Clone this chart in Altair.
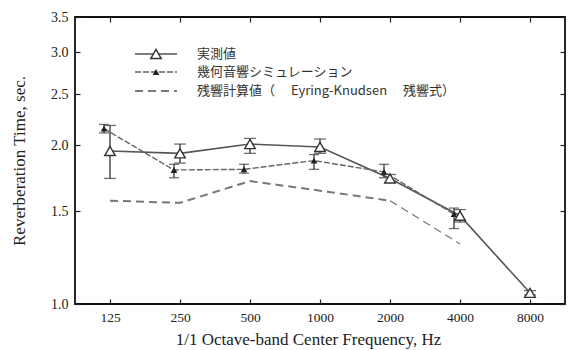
import altair as alt
import pandas as pd

freqs = ["125", "250", "500", "1000", "2000", "4000", "8000"]

# measured (open triangles)
measured = [1.95, 1.93, 2.01, 1.985, 1.73, 1.47, 1.05]
meas_lo = [1.73, 1.85, 1.93, 1.93, 1.70, 1.43, 1.04]
meas_hi = [2.18, 2.01, 2.06, 2.055, 1.76, 1.51, 1.06]

# geometric acoustic simulation (filled triangles)
sim_freqs = ["125", "250", "500", "1000", "2000", "4000"]
simulated = [2.15, 1.795, 1.80, 1.87, 1.78, 1.48]
sim_lo = [2.11, 1.735, 1.77, 1.80, 1.735, 1.39]
sim_hi = [2.19, 1.84, 1.84, 1.92, 1.84, 1.52]

# Eyring-Knudsen calculation (dashed)
ek_freqs = ["125", "250", "500", "1000", "2000", "4000"]
ek_vals = [1.57, 1.555, 1.71, 1.64, 1.57, 1.30]

y_ticks = [1.0, 1.5, 2.0, 2.5, 3.0, 3.5]

legend_labels = ["実測値", "幾何音響シミュレーション", "残響計算値（　 Eyring-Knudsen　 残響式）"]

SERIF = "Liberation Serif"
JP = "Noto Sans CJK JP"
LINE = "#555555"
MARK = "#333333"

meas_df = pd.DataFrame({"freq": freqs, "rt": measured, "lo": meas_lo, "hi": meas_hi})
sim_df = pd.DataFrame({"freq": sim_freqs, "rt": simulated, "lo": sim_lo, "hi": sim_hi})
ek_rows = []
for f, v in zip(ek_freqs, ek_vals):
    if f in ["125", "250", "500", "1000", "2000"]:
        ek_rows.append({"freq": f, "rt": v, "seg": "a"})
    if f in ["2000", "4000"]:
        ek_rows.append({"freq": f, "rt": v, "seg": "b"})
ek_df = pd.DataFrame(ek_rows)

xscale = alt.Scale(type="point", padding=0.5, domain=freqs)
yscale = alt.Scale(type="log", domain=[1.0, 3.5], nice=False)

def X(axis=None):
    return alt.X("freq:O", sort=freqs, scale=xscale, axis=axis)

def Y(field="rt", axis=None):
    return alt.Y(f"{field}:Q", scale=yscale, axis=axis)

main_x_axis = alt.Axis(title="1/1 Octave-band Center Frequency, Hz", labelAngle=0,
                       tickSize=0, labelPadding=6, domain=False, grid=False,
                       labelFont=SERIF, titleFont=SERIF, labelFontSize=13.5, titleFontSize=17,
                       titleFontWeight="normal", labelColor="#222", titleColor="#222",
                       titlePadding=8, titleX=233, titleAnchor="middle")
main_y_axis = alt.Axis(title="Reverberation Time, sec.", values=y_ticks, format=".1f",
                       tickSize=0, labelPadding=7, domain=False, grid=False,
                       labelFont=SERIF, titleFont=SERIF, labelFontSize=14, titleFontSize=17,
                       titleFontWeight="normal", labelColor="#222", titleColor="#222",
                       titlePadding=22)

base_meas = alt.Chart(meas_df)
meas_line = base_meas.mark_line(color=LINE, strokeWidth=1.6).encode(x=X(main_x_axis), y=Y(axis=main_y_axis))

# inward ticks via extra axes
tick_common = dict(labels=False, title=None, domain=False, grid=False, tickSize=5,
                   tickColor="#222", tickWidth=1.2)
tick_left = base_meas.mark_point(opacity=0).encode(
    x=X(None), y=Y(axis=alt.Axis(orient="right", offset=-490, values=y_ticks, **tick_common)))
tick_right = base_meas.mark_point(opacity=0).encode(
    x=X(None), y=Y(axis=alt.Axis(orient="left", offset=-490, values=y_ticks, **tick_common)))
tick_bottom = base_meas.mark_point(opacity=0).encode(
    x=X(alt.Axis(orient="top", offset=-287, **tick_common)), y=Y(axis=None))
tick_top = base_meas.mark_point(opacity=0).encode(
    x=X(alt.Axis(orient="bottom", offset=-287, **tick_common)), y=Y(axis=None))

meas_err = base_meas.mark_rule(color=MARK, strokeWidth=1.3).encode(x=X(), y=Y("lo"), y2="hi")
meas_cap_lo = base_meas.mark_tick(color=MARK, size=12, thickness=1.3).encode(x=X(), y=Y("lo"))
meas_cap_hi = base_meas.mark_tick(color=MARK, size=12, thickness=1.3).encode(x=X(), y=Y("hi"))

base_sim = alt.Chart(sim_df)
OFF = -6
sim_line = base_sim.mark_line(color="#666666", strokeWidth=1.4, strokeDash=[6, 2], xOffset=OFF).encode(x=X(), y=Y())
sim_err = base_sim.mark_rule(color=MARK, strokeWidth=1.3, xOffset=OFF).encode(x=X(), y=Y("lo"), y2="hi")
sim_cap_lo = base_sim.mark_tick(color=MARK, size=10, thickness=1.3, xOffset=OFF).encode(x=X(), y=Y("lo"))
sim_cap_hi = base_sim.mark_tick(color=MARK, size=10, thickness=1.3, xOffset=OFF).encode(x=X(), y=Y("hi"))
sim_pts = base_sim.mark_point(shape="triangle-up", filled=True, color="#222", size=45, opacity=1,
                              xOffset=OFF).encode(x=X(), y=Y())

ek_line = alt.Chart(ek_df).mark_line(color="#777777", strokeDash=[8, 5]).encode(
    x=X(), y=Y(), detail="seg:N",
    strokeWidth=alt.StrokeWidth("seg:N", scale=alt.Scale(domain=["a", "b"], range=[2.0, 1.2]), legend=None))

meas_pts = base_meas.mark_point(shape="triangle-up", filled=True, fill="white", stroke=MARK,
                                strokeWidth=1.4, size=110, opacity=1).encode(x=X(), y=Y())

# manual legend
one = pd.DataFrame({"a": [0]})
rows_y = [37, 55, 74]
lg = []
lg.append(alt.Chart(one).mark_rule(color=LINE, strokeWidth=1.6).encode(
    x=alt.value(60), x2=alt.value(102), y=alt.value(rows_y[0])))
lg.append(alt.Chart(one).mark_point(shape="triangle-up", filled=True, fill="white", stroke=MARK,
                                    strokeWidth=1.4, size=110, opacity=1).encode(
    x=alt.value(81), y=alt.value(rows_y[0])))
lg.append(alt.Chart(one).mark_rule(color="#666666", strokeWidth=1.4, strokeDash=[6, 2]).encode(
    x=alt.value(60), x2=alt.value(102), y=alt.value(rows_y[1])))
lg.append(alt.Chart(one).mark_point(shape="triangle-up", filled=True, color="#222", size=45, opacity=1).encode(
    x=alt.value(81), y=alt.value(rows_y[1])))
lg.append(alt.Chart(one).mark_rule(color="#777777", strokeWidth=2.0, strokeDash=[8, 5]).encode(
    x=alt.value(60), x2=alt.value(102), y=alt.value(rows_y[2])))
for lab, yy in zip(legend_labels, rows_y):
    lg.append(alt.Chart(one).mark_text(text=lab, align="left", baseline="middle", font=JP,
                                       fontSize=13, color="#333").encode(
        x=alt.value(122), y=alt.value(yy)))

chart = alt.layer(
    meas_line, tick_left, tick_right, tick_bottom, tick_top,
    ek_line,
    meas_err, meas_cap_lo, meas_cap_hi,
    sim_line, sim_err, sim_cap_lo, sim_cap_hi, sim_pts,
    meas_pts,
    *lg
).resolve_axis(x="independent", y="independent").properties(
    width=490, height=287,
    autosize=alt.AutoSizeParams(type="none"),
    padding={"left": 75, "top": 17, "right": 8, "bottom": 46},
    background="white",
).configure_view(stroke="#111", strokeWidth=1.8)

chart.save("out.html", embed_options={"renderer": "svg", "actions": False})
